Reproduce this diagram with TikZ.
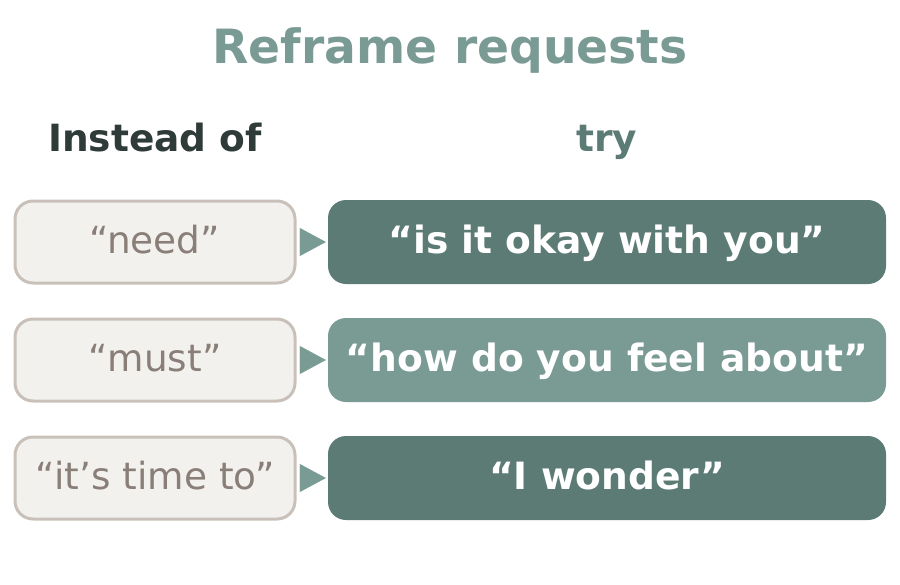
\documentclass[tikz,border=0pt]{standalone}
\usepackage{fontspec}
\setmainfont{DejaVu Sans}
\usetikzlibrary{arrows.meta}
\definecolor{titlec}{HTML}{7A9A94}
\definecolor{headdark}{HTML}{2E3B38}
\definecolor{headtry}{HTML}{5C7B75}
\definecolor{leftfill}{HTML}{F3F1EE}
\definecolor{leftdraw}{HTML}{C9C1B9}
\definecolor{lefttext}{HTML}{8A7F78}
\definecolor{rdark}{HTML}{5C7B75}
\definecolor{rlight}{HTML}{7A9A94}
\definecolor{arrowc}{HTML}{7A9A94}
\tikzset{
  leftbox/.style={draw=leftdraw, line width=3pt, fill=leftfill, rounded corners=18pt,
    minimum width=280pt, minimum height=82pt, inner sep=0pt,
    text=lefttext, font=\fontsize{37.4}{40}\selectfont, text height=22pt, text depth=0pt},
  rightbox/.style={rounded corners=18pt, minimum width=558pt, minimum height=84pt, inner sep=0pt,
    text=white, font=\fontsize{37.6}{40}\selectfont\bfseries, text height=22pt, text depth=0pt},
  conn/.style={draw=arrowc, line width=0.01pt, -{Triangle[length=26pt,width=28pt,fill=arrowc]},
    shorten <=2.5pt, shorten >=2pt},
  titlest/.style={text=titlec, font=\fontsize{47.2}{50}\selectfont\bfseries, anchor=base},
  headst/.style={font=\fontsize{37.5}{40}\selectfont\bfseries, anchor=base}
}
\begin{document}
\begin{tikzpicture}[x=1pt,y=-1pt]
\useasboundingbox (0,0) rectangle (900,584);
\node[titlest] (title) at (450,63) {Reframe requests};
\node[headst, text=headdark] (hl) at (155,151) {Instead of};
\node[headst, text=headtry] (hr) at (607,151) {try};

\node[leftbox] (l1) at (155,242) {“need”};
\node[leftbox] (l2) at (155,360) {“must”};
\node[leftbox] (l3) at (155,478) {“it’s time to”};

\node[rightbox, fill=rdark] (r1) at (607,242) {“is it okay with you”};
\node[rightbox, fill=rlight] (r2) at (607,360) {“how do you feel about”};
\node[rightbox, fill=rdark] (r3) at (607,478) {“I wonder”};

\draw[conn] (l1.east) -- (r1.west);
\draw[conn] (l2.east) -- (r2.west);
\draw[conn] (l3.east) -- (r3.west);
\end{tikzpicture}
\end{document}
